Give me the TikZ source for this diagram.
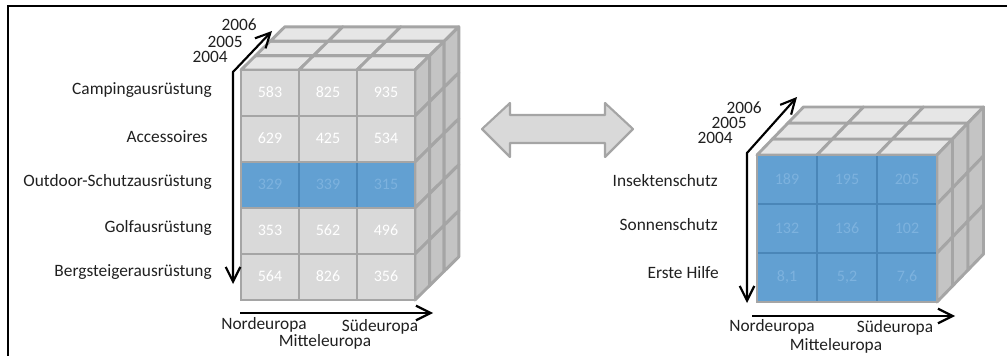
\documentclass[tikz,border=0pt]{standalone}
\usepackage{fontspec}
\setmainfont{Carlito}
\usetikzlibrary{arrows.meta}

\definecolor{cellgray}{HTML}{D9D9D9}
\definecolor{topgray}{HTML}{E6E6E6}
\definecolor{sidegray}{HTML}{C4C4C4}
\definecolor{linegray}{HTML}{A5A5A5}
\definecolor{cellblue}{HTML}{62A0D2}
\definecolor{lineblue}{HTML}{4A86B8}
\definecolor{numblue}{HTML}{7DB2DE}
\definecolor{labeltext}{HTML}{202020}

\tikzset{
  cell/.style={fill=cellgray, draw=linegray, line width=2.2pt},
  topcell/.style={fill=topgray, draw=linegray, line width=2.2pt, line join=round},
  sidecell/.style={fill=sidegray, draw=linegray, line width=2.2pt, line join=round},
  bluecell/.style={fill=cellblue, draw=lineblue, line width=2.2pt},
  rim/.style={draw=linegray, line width=2.2pt},
  num/.style={text=white, font=\fontsize{12}{12}\selectfont},
  bluenum/.style={text=numblue, font=\fontsize{12}{12}\selectfont},
  lbl/.style={text=labeltext, font=\fontsize{13}{13}\selectfont, inner sep=0pt},
  axis/.style={line width=1.6pt, {Straight Barb[length=11pt,width=11pt]}-{Straight Barb[length=11pt,width=11pt]}},
  xaxis/.style={line width=1.6pt, -{Straight Barb[length=11pt,width=11pt]}}
}

\begin{document}
\begin{tikzpicture}[x=0.75pt, y=-0.75pt]
\useasboundingbox (0,0) rectangle (1007,356);
% frame
\draw[line width=1.5pt] (1007,6) -- (8,6) -- (8,356);

% left cube: top and side
\foreach \k in {0,1,2} {
  \foreach \i in {0,1,2}
    \draw[topcell] (241+58*\i+14.6*\k, 70-14.4*\k) -- ++(58,0) -- ++(14.6,-14.4) -- ++(-58,0) -- cycle;
  \foreach \j in {0,...,4}
    \draw[sidecell] (415+14.6*\k, 70-14.4*\k+46*\j) -- ++(14.6,-14.4) -- ++(0,46) -- ++(-14.6,14.4) -- cycle;
}
% left cube: front
\foreach \v [count=\n from 0] in {583,825,935,629,425,534,329,339,315,353,562,496,564,826,356} {
  \pgfmathtruncatemacro{\i}{mod(\n,3)}
  \pgfmathtruncatemacro{\j}{div(\n,3)}
  \ifnum\j=2
    \draw[bluecell] (241+58*\i, 70+46*\j) rectangle ++(58,46);
    \node[bluenum] (l\n) at (270+58*\i, 92+46*\j) {\v};
  \else
    \draw[cell] (241+58*\i, 70+46*\j) rectangle ++(58,46);
    \node[num] (l\n) at (270+58*\i, 92+46*\j) {\v};
  \fi
}
\draw[rim] (241,162) rectangle (415,208);
\draw[rim] (241,70) rectangle (415,300);

% left cube: labels
\node[lbl, anchor=east] (camping) at (212,90) {Campingausrüstung};
\node[lbl, anchor=east] (access) at (208,137) {Accessoires};
\node[lbl, anchor=east] (outdoor) at (212,182) {Outdoor-Schutzausrüstung};
\node[lbl, anchor=east] (golf) at (212,228) {Golfausrüstung};
\node[lbl, anchor=east] (berg) at (212,272) {Bergsteigerausrüstung};
\node[lbl, anchor=east] (ly6) at (257,25) {2006};
\node[lbl, anchor=east] (ly5) at (243,42) {2005};
\node[lbl, anchor=east] (ly4) at (228,57) {2004};
\node[lbl] (lnord) at (264,325) {Nordeuropa};
\node[lbl] (lsued) at (380,327) {Südeuropa};
\node[lbl] (lmitte) at (325,342) {Mitteleuropa};

% left cube: axes
\coordinate (lzTip) at (272,31);
\coordinate (lBend) at (233,72);
\coordinate (lyTip) at (233,284);
\coordinate (lxFrom) at (240,313);
\coordinate (lxTip) at (433,313);
\draw[axis] (lzTip) -- (lBend) -- (lyTip);
\draw[xaxis] (lxFrom) -- (lxTip);

% double arrow
\draw[fill=cellgray, draw=linegray, line width=1.6pt, line join=round]
  (482,129) -- (510,103) -- (510,115) -- (605,115) -- (605,103) -- (633,129)
  -- (605,157) -- (605,143) -- (510,143) -- (510,157) -- cycle;

% right cube: top and side
\foreach \k in {0,1,2} {
  \foreach \i in {0,1,2}
    \draw[topcell] (757+60*\i+15.5*\k, 155-16*\k) -- ++(60,0) -- ++(15.5,-16) -- ++(-60,0) -- cycle;
  \foreach \j in {0,1,2}
    \draw[sidecell] (937+15.5*\k, 155-16*\k+49*\j) -- ++(15.5,-16) -- ++(0,49) -- ++(-15.5,16) -- cycle;
}
% right cube: front
\foreach \v [count=\n from 0] in {189,195,205,132,136,102,{8,1},{5,2},{7,6}} {
  \pgfmathtruncatemacro{\i}{mod(\n,3)}
  \pgfmathtruncatemacro{\j}{div(\n,3)}
  \draw[bluecell] (757+60*\i, 155+49*\j) rectangle ++(60,49);
  \node[bluenum] (r\n) at (787+60*\i, 179+49*\j) {\v};
}
\draw[rim] (757,155) rectangle (937,302);

% right cube: labels
\node[lbl, anchor=east] (insekt) at (718,181) {Insektenschutz};
\node[lbl, anchor=east] (sonne) at (718,225) {Sonnenschutz};
\node[lbl, anchor=east] (hilfe) at (719,273) {Erste Hilfe};
\node[lbl, anchor=east] (ry6) at (762,108) {2006};
\node[lbl, anchor=east] (ry5) at (747,123) {2005};
\node[lbl, anchor=east] (ry4) at (733,138) {2004};
\node[lbl] (rnord) at (772,327) {Nordeuropa};
\node[lbl] (rsued) at (895,328) {Südeuropa};
\node[lbl] (rmitte) at (836,346) {Mitteleuropa};

% right cube: axes
\coordinate (rzTip) at (797,97);
\coordinate (rBend) at (747,153);
\coordinate (ryTip) at (747,303);
\coordinate (rxFrom) at (752,316);
\coordinate (rxTip) at (955,316);
\draw[axis] (rzTip) -- (rBend) -- (ryTip);
\draw[xaxis] (rxFrom) -- (rxTip);
\end{tikzpicture}
\end{document}
